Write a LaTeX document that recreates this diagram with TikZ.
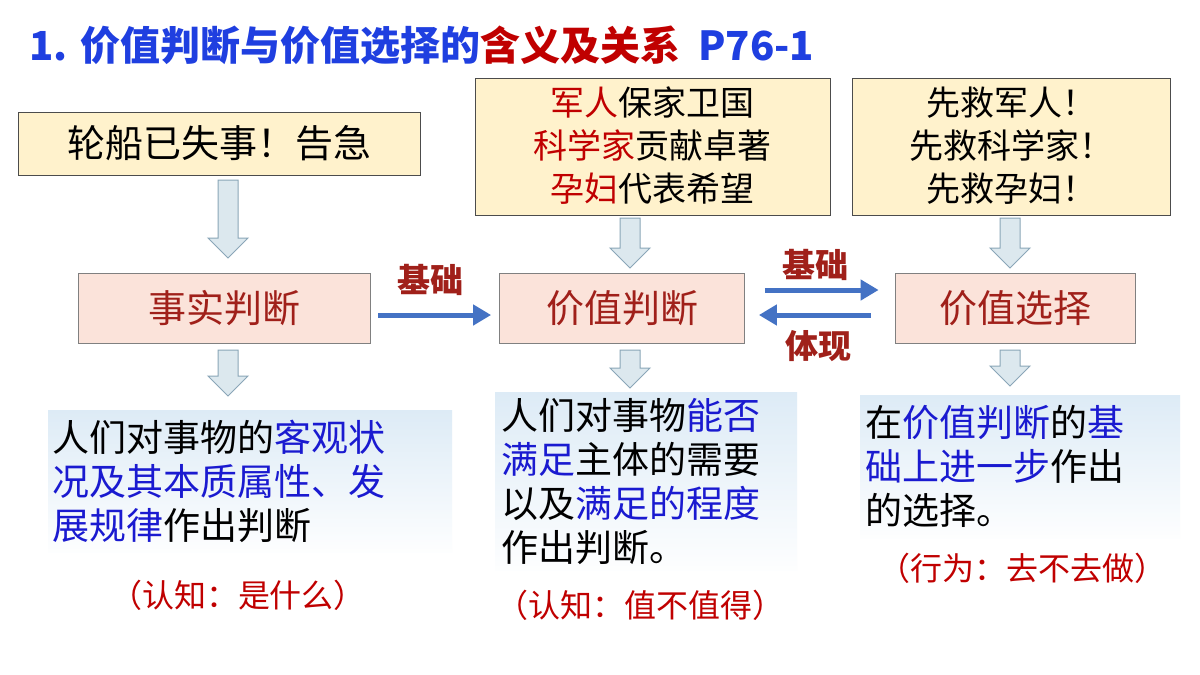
\documentclass[tikz,border=0pt]{standalone}
\usepackage{fontspec}
\setmainfont{Noto Sans CJK SC}
\newfontfamily\cjk{Noto Sans CJK SC}
\usetikzlibrary{arrows.meta}
\definecolor{tblue}{HTML}{1F3FE0}
\definecolor{tred}{HTML}{C00000}
\definecolor{dred}{HTML}{A0201A}
\definecolor{ybox}{HTML}{FFF2CC}
\definecolor{pbox}{HTML}{FBE3DA}
\definecolor{bfill}{HTML}{DCE8EE}
\definecolor{bline}{HTML}{8AA6B8}
\definecolor{lblue}{HTML}{DDEBF6}
\definecolor{ablue}{HTML}{4472C4}
\definecolor{kblue}{HTML}{1A1AD0}
\newcommand\bdown[3]{%
  \filldraw[fill=bfill,draw=bline,line width=1pt]
  (#1-10,#2)--(#1+10,#2)--(#1+10,#3-20)--(#1+20,#3-20)--(#1,#3)--(#1-20,#3-20)--(#1-10,#3-20)--cycle;}
\tikzset{
  ybx/.style={draw=black!70,fill=ybox,line width=0.8pt},
  pbx/.style={draw=black!50,fill=pbox,line width=0.8pt,text=dred,font=\fontsize{38}{40}\selectfont},
  tbx/.style={top color=lblue,bottom color=white!95!lblue,draw=none,font=\fontsize{37}{44}\selectfont,align=left,anchor=north west},
  lab/.style={text=dred,font=\bfseries\fontsize{33}{35}\selectfont},
  par/.style={text=tred,font=\fontsize{32}{34}\selectfont},
  blarr/.style={-{Triangle[length=18pt,width=20pt]},draw=ablue,line width=5pt}
}
\begin{document}
\begin{tikzpicture}[x=1pt,y=-1pt]
\useasboundingbox (0,0) rectangle (1200,675);
\fill[white] (0,0) rectangle (1200,675);
\node[anchor=west,font=\bfseries\fontsize{40}{42}\selectfont] (title) at (26,45)
  {\textcolor{tblue}{1. 价值判断与价值选择的}\textcolor{tred}{含义及关系}\textcolor{tblue}{\ \ P76-1}};
% top boxes
\draw[ybx] (18,112) rectangle (420,175);
\node[font=\fontsize{38}{40}\selectfont] (b1) at (219,143) {轮船已失事！告急};
\draw[ybx] (475,78) rectangle (830,215);
\node[font=\fontsize{34}{43}\selectfont,align=center] (b2) at (652,146)
 {\textcolor{tred}{军人}保家卫国\\\textcolor{tred}{科学家}贡献卓著\\\textcolor{tred}{孕妇}代表希望};
\draw[ybx] (852,78) rectangle (1170,215);
\node[font=\fontsize{34}{43}\selectfont,align=center] (b3) at (1011,146)
 {先救军人！\\先救科学家！\\先救孕妇！};
% pink boxes
\node[pbx,minimum width=292pt,minimum height=70pt] (p1) at (224,308) {事实判断};
\node[pbx,minimum width=245pt,minimum height=70pt] (p2) at (622,308) {价值判断};
\node[pbx,minimum width=240pt,minimum height=70pt] (p3) at (1015,308) {价值选择};
% block arrows
\bdown{228}{180}{258}
\bdown{630}{218}{268}
\bdown{1010}{218}{268}
\bdown{228}{350}{396}
\bdown{630}{350}{388}
\bdown{1010}{350}{386}
% connectors
\draw[blarr] ([xshift=8pt,yshift=-7pt]p1.east) -- ([xshift=-8pt,yshift=-7pt]p2.west);
\node[lab] (l1) at (430,280) {基础};
\draw[blarr] ([xshift=20pt,yshift=18pt]p2.east) -- ([xshift=-16pt,yshift=18pt]p3.west);
\draw[blarr] ([xshift=-24pt,yshift=-7pt]p3.west) -- ([xshift=14pt,yshift=-7pt]p2.east);
\node[lab] (l2) at (815,265) {基础};
\node[lab] (l3) at (818,346) {体现};
% text boxes
\node[tbx,minimum width=404pt,minimum height=142pt,text width=395pt] (t1) at (48,410)
 {人们对事物的\textcolor{kblue}{客观状}\\\textcolor{kblue}{况及其本质属性、发}\\\textcolor{kblue}{展规律}作出判断};
\node[tbx,minimum width=302pt,minimum height=178pt,text width=290pt] (t2) at (495,392)
 {人们对事物\textcolor{kblue}{能否}\\\textcolor{kblue}{满足}主体的需要\\以及\textcolor{kblue}{满足的程度}\\作出判断。};
\node[tbx,minimum width=320pt,minimum height=143pt,text width=310pt] (t3) at (860,395)
 {在\textcolor{kblue}{价值判断}的\textcolor{kblue}{基}\\\textcolor{kblue}{础上进一步}作出\\的选择。};
% parentheses
\node[par] (q1) at (238,595) {（认知：是什么）};
\node[par] (q2) at (640,605) {（认知：值不值得）};
\node[par] (q3) at (1022,568) {（行为：去不去做）};
\end{tikzpicture}
\end{document}
